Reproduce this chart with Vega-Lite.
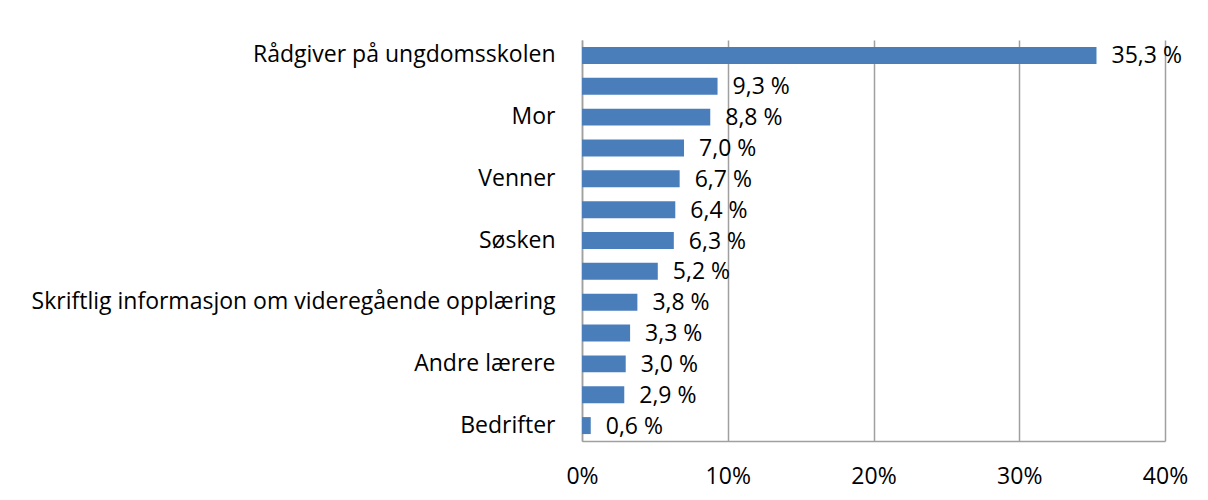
{
  "$schema": "https://vega.github.io/schema/vega-lite/v6.json",
  "autosize": {"type": "none"},
  "width": 583,
  "height": 401,
  "padding": {"left": 582, "top": 40, "right": 43, "bottom": 59},
  "background": "white",
  "data": {"values": [
    {"kategori": "Rådgiver på ungdomsskolen", "rang": 1, "andel": 35.3},
    {"kategori": "Far", "rang": 2, "andel": 9.3},
    {"kategori": "Mor", "rang": 3, "andel": 8.8},
    {"kategori": "Kontaktlærer", "rang": 4, "andel": 7.0},
    {"kategori": "Venner", "rang": 5, "andel": 6.7},
    {"kategori": "Internett", "rang": 6, "andel": 6.4},
    {"kategori": "Søsken", "rang": 7, "andel": 6.3},
    {"kategori": "Besøk på videregående skole", "rang": 8, "andel": 5.2},
    {"kategori": "Skriftlig informasjon om videregående opplæring", "rang": 9, "andel": 3.8},
    {"kategori": "Andre voksne", "rang": 10, "andel": 3.3},
    {"kategori": "Andre lærere", "rang": 11, "andel": 3.0},
    {"kategori": "Utdanningsmesse", "rang": 12, "andel": 2.9},
    {"kategori": "Bedrifter", "rang": 13, "andel": 0.6}
  ]},
  "transform": [
    {"calculate": "replace(format(datum.andel, '.1f'), '.', ',') + ' %'", "as": "etikett"}
  ],
  "encoding": {
    "y": {
      "field": "kategori", "type": "nominal",
      "sort": {"field": "rang", "order": "ascending"},
      "scale": {"paddingInner": 0.45, "paddingOuter": 0.225},
      "axis": {
        "title": null,
        "values": ["Rådgiver på ungdomsskolen", "Mor", "Venner", "Søsken", "Skriftlig informasjon om videregående opplæring", "Andre lærere", "Bedrifter"],
        "ticks": false,
        "labelPadding": 27,
        "labelFont": "Open Sans",
        "labelFontSize": 23,
        "labelColor": "#000000",
        "domainColor": "#a0a0a0",
        "domainWidth": 1.5,
        "labelLimit": 0
      }
    },
    "x": {
      "field": "andel", "type": "quantitative",
      "scale": {"domain": [0, 40], "nice": false},
      "axis": {
        "title": null,
        "values": [0, 10, 20, 30, 40],
        "labelExpr": "datum.value + '%'",
        "labelFlush": false,
        "ticks": false,
        "labelPadding": 24,
        "labelFont": "Open Sans",
        "labelFontSize": 23,
        "labelColor": "#000000",
        "domainColor": "#a0a0a0",
        "domainWidth": 1.5,
        "grid": true,
        "gridColor": "#a0a0a0",
        "gridWidth": 1.5
      }
    }
  },
  "layer": [
    {"mark": {"type": "bar", "color": "#4a7ebb"}},
    {
      "mark": {"type": "text", "align": "left", "baseline": "middle", "dx": 15, "dy": 1, "font": "Open Sans", "fontSize": 23, "color": "#000000"},
      "encoding": {"text": {"field": "etikett"}}
    }
  ],
  "config": {"view": {"stroke": null}}
}
